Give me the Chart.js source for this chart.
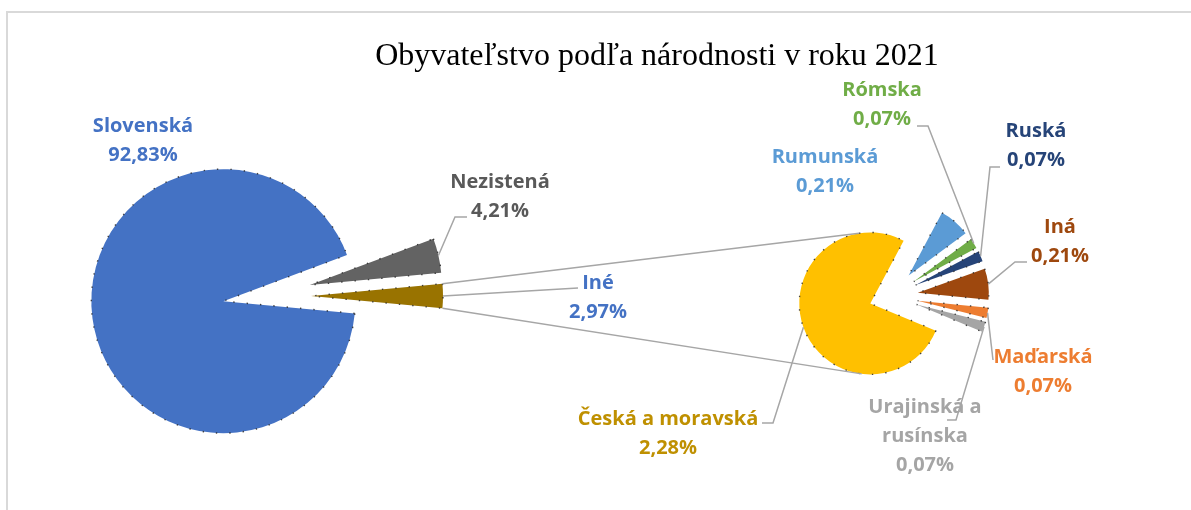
<!DOCTYPE html>
<html><head><meta charset="utf-8">
<script src="https://cdn.jsdelivr.net/npm/chart.js@4.4.1/dist/chart.umd.min.js"></script>
<style>
html,body{margin:0;padding:0;background:#fff;}
#wrap{position:relative;width:1191px;height:510px;overflow:hidden;background:#fff;}
canvas{position:absolute;left:0;top:0;}
</style></head><body>
<div id="wrap"><canvas id="c1" width="1191" height="510"></canvas><canvas id="c2" width="1191" height="510"></canvas></div>
<script>
// ---------- data ----------
const chartTitle = 'Obyvateľstvo podľa národnosti v roku 2021';
const mainCategories = ['Slovenská', 'Nezistená', 'Iné'];
const mainValues = [92.83, 4.21, 2.97];
const mainValueLabels = ['92,83%', '4,21%', '2,97%'];
const subCategories = ['Česká a moravská', 'Rumunská', 'Rómska', 'Ruská', 'Iná', 'Maďarská', 'Urajinská a rusínska'];
const subValues = [2.28, 0.21, 0.07, 0.07, 0.21, 0.07, 0.07];
const subValueLabels = ['2,28%', '0,21%', '0,07%', '0,07%', '0,21%', '0,07%', '0,07%'];

// ---------- style / layout ----------
const mainColors = ['#4472C4', '#636363', '#997300'];
const mainTextColors = ['#4472C4', '#595959', '#4472C4'];
const subColors = ['#FFC000', '#5B9BD5', '#70AD47', '#264478', '#9E480E', '#ED7D31', '#A5A5A5'];
const subTextColors = ['#BF9000', '#5B9BD5', '#70AD47', '#264478', '#9E480E', '#ED7D31', '#A5A5A5'];
const mainExplode = [39, 49, 49];
const subExplode = [22, 27, 27, 27, 27, 27, 27];
const subWrap = {6: ['Urajinská a', 'rusínska']};
// label anchor: [centerX, first baseline]
const mainLabelPos = [[143, 132], [500, 188], [598, 289]];
const subLabelPos = [[668, 425], [825, 163], [882, 96], [1036, 137], [1060, 233], [1043, 363], [925, 413]];
// leader line points on label side (from slice -> ... -> end)
const mainLeaders = [null, [[455, 217], [467, 217]], [[578, 288]]];
const subLeaders = [[[773, 423], [762, 423]], null, [[928, 126], [917, 126]], [[990, 167], [1000, 167]], [[1015, 262], [1027, 262]], [[993, 360]], [[956, 420], [947, 420]]];
const LINE_GAP = 29;
const LABEL_FONT = 'bold 20px "Open Sans"';
const LINE_COLOR = '#A6A6A6';

const sum = a => a.reduce((s, v) => s + v, 0);

function explodePlugin(amounts) {
  return {
    id: 'explode',
    afterDatasetUpdate(chart, args) {
      const meta = chart.getDatasetMeta(args.index);
      meta.data.forEach((el, i) => {
        const baseDraw = Object.getPrototypeOf(el).draw;
        el.$explode = amounts[i] || 0;
        el.draw = function (ctx, area) {
          const mid = (this.startAngle + this.endAngle) / 2;
          ctx.save();
          ctx.translate(Math.cos(mid) * this.$explode, Math.sin(mid) * this.$explode);
          baseDraw.call(this, ctx, area);
          ctx.restore();
        };
      });
    }
  };
}

function arcPoint(el, angle) {
  const mid = (el.startAngle + el.endAngle) / 2;
  const cx = el.x + Math.cos(mid) * el.$explode;
  const cy = el.y + Math.sin(mid) * el.$explode;
  return [cx + Math.cos(angle) * el.outerRadius, cy + Math.sin(angle) * el.outerRadius];
}
function arcMidPoint(el) { return arcPoint(el, (el.startAngle + el.endAngle) / 2); }

const framePlugin = {
  id: 'frame',
  beforeDraw(chart) {
    const ctx = chart.ctx;
    ctx.save();
    ctx.fillStyle = '#fff';
    ctx.fillRect(0, 0, chart.width, chart.height);
    ctx.strokeStyle = '#D9D9D9';
    ctx.lineWidth = 2;
    ctx.beginPath();
    ctx.moveTo(7, 510); ctx.lineTo(7, 12); ctx.lineTo(1191, 12);
    ctx.stroke();
    ctx.restore();
  }
};

const commonOptions = (pad, radius, rotation) => ({
  responsive: false,
  animation: false,
  events: [],
  radius: radius,
  rotation: rotation,
  layout: {padding: pad},
  plugins: {legend: {display: false}, tooltip: {enabled: false}, title: {display: false}}
});

const dotted = {borderWidth: 1.4, borderColor: 'rgba(40,40,40,0.85)', borderDash: [1.4, 12], clip: false};

const chart1 = new Chart(document.getElementById('c1'), {
  type: 'pie',
  data: {labels: mainCategories, datasets: [Object.assign({data: mainValues, backgroundColor: mainColors}, dotted)]},
  options: commonOptions({left: 0, right: 667, top: 82, bottom: 0}, 132, 90 + mainValues[2] / sum(mainValues) * 180),
  plugins: [framePlugin, explodePlugin(mainExplode)]
});

function drawLabel(ctx, lines, x, y, color) {
  ctx.fillStyle = color;
  lines.forEach((t, k) => ctx.fillText(t, x, y + k * LINE_GAP));
}
function drawLeader(ctx, start, pts) {
  ctx.beginPath();
  ctx.moveTo(start[0], start[1]);
  pts.forEach(p => ctx.lineTo(p[0], p[1]));
  ctx.stroke();
}

const annotatePlugin = {
  id: 'annotate',
  afterDraw(chart) {
    const ctx = chart.ctx;
    const m = chart1.getDatasetMeta(0).data;
    const s = chart.getDatasetMeta(0).data;
    ctx.save();
    // title
    ctx.fillStyle = '#000';
    ctx.font = '32px "Liberation Serif"';
    ctx.textAlign = 'center';
    ctx.textBaseline = 'alphabetic';
    ctx.fillText(chartTitle, 657, 65);
    // series lines from "Iné" slice to second pie
    ctx.strokeStyle = LINE_COLOR;
    ctx.lineWidth = 1.5;
    const ine = m[2], cz = s[0];
    drawLeader(ctx, arcPoint(ine, ine.startAngle), [arcPoint(cz, -99 * Math.PI / 180)]);
    drawLeader(ctx, arcPoint(ine, ine.endAngle), [arcPoint(cz, 97 * Math.PI / 180)]);
    // labels
    ctx.font = LABEL_FONT;
    mainCategories.forEach((c, i) => {
      drawLabel(ctx, [c, mainValueLabels[i]], mainLabelPos[i][0], mainLabelPos[i][1], mainTextColors[i]);
    });
    subCategories.forEach((c, i) => {
      const lines = (subWrap[i] || [c]).concat([subValueLabels[i]]);
      drawLabel(ctx, lines, subLabelPos[i][0], subLabelPos[i][1], subTextColors[i]);
    });
    // leader lines
    ctx.strokeStyle = LINE_COLOR;
    ctx.lineWidth = 1.5;
    mainLeaders.forEach((l, i) => { if (l) drawLeader(ctx, arcMidPoint(m[i]), l); });
    subLeaders.forEach((l, i) => { if (l) drawLeader(ctx, arcMidPoint(s[i]), l); });
    ctx.restore();
  }
};

const chart2 = new Chart(document.getElementById('c2'), {
  type: 'pie',
  data: {labels: subCategories, datasets: [Object.assign({data: subValues, backgroundColor: subColors}, dotted)]},
  options: commonOptions({left: 591, right: 0, top: 82, bottom: 0}, 71, 112.6),
  plugins: [explodePlugin(subExplode), annotatePlugin]
});
</script>
</body></html>
